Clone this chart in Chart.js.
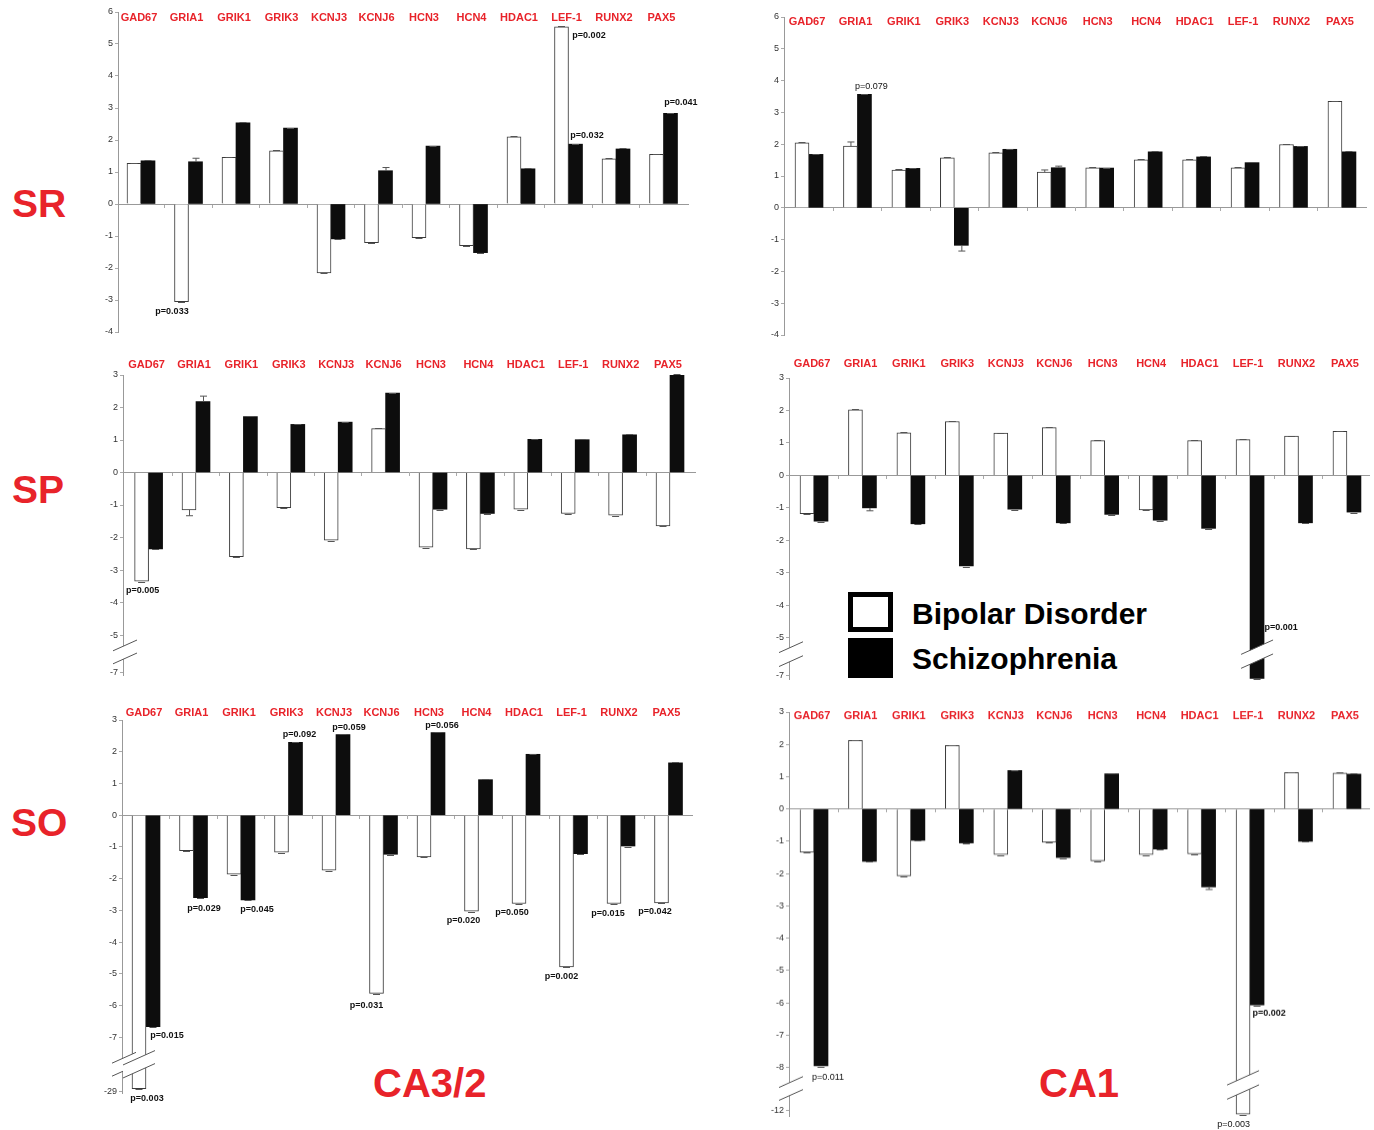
<!DOCTYPE html>
<html>
<head>
<meta charset="utf-8">
<script src="https://cdn.jsdelivr.net/npm/chart.js@4.4.1/dist/chart.umd.min.js"></script>
<style>
body{margin:0;background:#fff;width:1374px;height:1130px;position:relative;overflow:hidden;font-family:"Liberation Sans",Arial,sans-serif}
canvas{position:absolute}
.big{position:absolute;color:#e8232a;font-weight:bold;font-size:39px;line-height:1;white-space:nowrap}
.box{position:absolute;left:848px;width:45px;height:40px;box-sizing:border-box;border:5px solid #000}
.leg{position:absolute;left:912px;font-weight:bold;font-size:30px;line-height:1;color:#000;white-space:nowrap}
</style>
</head>
<body>
<div class="big" style="left:12px;top:184px">SR</div>
<div class="big" style="left:12px;top:470px">SP</div>
<div class="big" style="left:11px;top:803px">SO</div>
<div class="big" style="left:373px;top:1063px;font-size:40px">CA3/2</div>
<div class="big" style="left:1039px;top:1063px;font-size:40px">CA1</div>
<div class="box" style="top:592px;background:#fff"></div>
<div class="box" style="top:638px;background:#000"></div>
<div class="leg" style="top:599px">Bipolar Disorder</div>
<div class="leg" style="top:644px">Schizophrenia</div>
<script>
const genes = ['GAD67', 'GRIA1', 'GRIK1', 'GRIK3', 'KCNJ3', 'KCNJ6', 'HCN3', 'HCN4', 'HDAC1', 'LEF-1', 'RUNX2', 'PAX5'];

// SR
const srCA3Bip = [1.27, -3.05, 1.46, 1.66, -2.15, -1.21, -1.05, -1.30, 2.10, 5.54, 1.41, 1.55];
const srCA3Sch = [1.35, 1.32, 2.54, 2.37, -1.09, 1.04, 1.81, -1.52, 1.10, 1.87, 1.72, 2.83];
const srCA1Bip = [2.04, 1.94, 1.19, 1.57, 1.73, 1.12, 1.26, 1.51, 1.51, 1.26, 1.99, 3.35];
const srCA1Sch = [1.68, 3.57, 1.24, -1.18, 1.84, 1.26, 1.25, 1.76, 1.60, 1.42, 1.93, 1.76];
// SP
const spCA3Bip = [-3.34, -1.15, -2.59, -1.08, -2.08, 1.35, -2.30, -2.35, -1.13, -1.26, -1.31, -1.64];
const spCA3Sch = [-2.35, 2.18, 1.72, 1.48, 1.55, 2.44, -1.13, -1.26, 1.02, 1.01, 1.16, 3.03];
const spCA1Bip = [-1.18, 2.02, 1.31, 1.66, 1.30, 1.47, 1.07, -1.06, 1.07, 1.10, 1.21, 1.36];
const spCA1Sch = [-1.41, -1.00, -1.49, -2.79, -1.04, -1.46, -1.20, -1.38, -1.63, -7.2, -1.46, -1.13];
// SO
const soCA3Bip = [-27.5, -1.12, -1.86, -1.16, -1.73, -5.61, -1.31, -3.02, -2.78, -4.78, -2.78, -2.76];
const soCA3Sch = [-6.66, -2.60, -2.67, 2.30, 2.54, -1.23, 2.60, 1.12, 1.92, -1.21, -0.97, 1.65];
const soCA1Bip = [-1.34, 2.12, -2.07, 1.97, -1.41, -1.03, -1.60, -1.41, -1.39, -12.4, 1.13, 1.11];
const soCA1Sch = [-7.95, -1.62, -0.97, -1.05, 1.19, -1.50, 1.09, -1.24, -2.41, -6.06, -1.00, 1.08];

// tick labels
const ticksSR = [6, 5, 4, 3, 2, 1, 0, -1, -2, -3, -4];
const ticksSP = [3, 2, 1, 0, -1, -2, -3, -4, -5, -7];
const ticksSOCA3 = [3, 2, 1, 0, -1, -2, -3, -4, -5, -6, -7, -29];
const ticksSOCA1 = [3, 2, 1, 0, -1, -2, -3, -4, -5, -6, -7, -8, -12];

const RED = '#e8232a';
const FONT = '"Liberation Sans", Arial, sans-serif';

// [gene index, dataset (0 bipolar, 1 schizophrenia), error]
const errSR3 = [[1, 1, 0.11], [5, 1, 0.1]];
const errSR1 = [[1, 0, 0.13], [3, 1, -0.18], [5, 0, 0.07], [5, 1, 0.05]];
const errSP3 = [[1, 0, -0.18], [1, 1, 0.17]];
const errSP1 = [[1, 1, -0.09]];
const errSO1 = [[8, 1, -0.08]];

const panels = [
	{ bip: srCA3Bip, sch: srCA3Sch, ticks: ticksSR, err: errSR3, ymax: 6, ymin: -4, axisX: 118, topY: 12, bottomY: 332, first: 141, step: 47.5, right: 688, labelDy: 6,
		notes: [[1, 0, 'p=0.033', -9.5, 9.5, true], [9, 0, 'p=0.002', 27.5, 8.3, true], [9, 1, 'p=0.032', 11.5, -8.5, true], [11, 1, 'p=0.041', 10.3, -10.7, true]], breaks: [] },
	{ bip: srCA1Bip, sch: srCA1Sch, ticks: ticksSR, err: errSR1, ymax: 6, ymin: -4, axisX: 784, topY: 16.5, bottomY: 334.5, first: 809, step: 48.45, right: 1366, labelDy: 5,
		notes: [[1, 1, 'p=0.079', 7, -7.5, false]], breaks: [] },
	{ bip: spCA3Bip, sch: spCA3Sch, ticks: ticksSP, err: errSP3, ymax: 3, ymin: -6.23, axisX: 123, topY: 375, bottomY: 675, first: 148.6, step: 47.4, right: 695, labelDy: -10,
		brk: { at: -5.3, label: -7, disp: -6.16 },
		notes: [[0, 0, 'p=0.005', 1, 9.7, true]], breaks: [{ d: [-5.32, -5.72] }] },
	{ bip: spCA1Bip, sch: spCA1Sch, ticks: ticksSP, err: errSP1, ymax: 3, ymin: -6.27, axisX: 789, topY: 377.5, bottomY: 678.8, first: 814, step: 48.45, right: 1369, labelDy: -14,
		brk: { at: -5.25, label: -7, disp: -6.15 },
		notes: [[9, 1, 'p=0.001', 24, -51, true]], breaks: [{ d: [-5.29, -5.72] }, { bar: [9, 1], d: [-5.29, -5.72] }] },
	{ bip: soCA3Bip, sch: soCA3Sch, ticks: ticksSOCA3, err: [], ymax: 3, ymin: -8.75, axisX: 122, topY: 719.6, bottomY: 1093.3, first: 146, step: 47.5, right: 692, labelDy: -7,
		brk: { at: -7.35, label: -29, disp: -8.71 },
		notes: [[3, 1, 'p=0.092', 4, -7.6, true], [4, 1, 'p=0.059', 6, -7.5, true], [6, 1, 'p=0.056', 4, -7.3, true],
			[1, 1, 'p=0.029', 3.5, 10.6, true], [2, 1, 'p=0.045', 9, 10, true], [5, 0, 'p=0.031', -10, 12, true],
			[7, 0, 'p=0.020', -8, 9, true], [8, 0, 'p=0.050', -7, 9, true], [9, 0, 'p=0.002', -5, 10, true],
			[10, 0, 'p=0.015', -6, 10, true], [11, 0, 'p=0.042', -6.5, 9, true], [0, 1, 'p=0.015', 14, 9, true],
			[0, 0, 'p=0.003', 8, 10, true]],
		breaks: [{ d: [-7.64, -8.05] }, { bar: [0, 0], d: [-7.64, -8.05] }] },
	{ bip: soCA1Bip, sch: soCA1Sch, ticks: ticksSOCA1, err: errSO1, ymax: 3, ymin: -9.5, axisX: 789, topY: 712.4, bottomY: 1116.2, first: 814, step: 48.45, right: 1369, labelDy: 4,
		brk: { at: -8.3, label: -12, disp: -9.33 },
		notes: [[0, 1, 'p=0.011', 7, 11, false], [9, 1, 'p=0.002', 12, 8, true], [9, 0, 'p=0.003', -9.5, 10, false]],
		breaks: [{ d: [-8.45, -8.85] }, { bar: [9, 0], d: [-8.32, -8.76] }] },
];

const extras = {
	id: 'extras',
	afterDatasetsDraw(chart, args, o) {
		const { ctx, chartArea } = chart;
		const xs = chart.scales.x;
		const ys = chart.scales.y;
		ctx.save();
		ctx.lineWidth = 1;
		// caps and error whiskers
		[0, 1].forEach((di) => {
			chart.getDatasetMeta(di).data.forEach((bar, i) => {
				const up = bar.y < bar.base;
				const e = o.err.find((r) => r[0] === i && r[1] === di);
				ctx.strokeStyle = '#555';
				ctx.beginPath();
				if (e) {
					const end = ys.getPixelForValue(o.disp(o.raw[di][i] + e[2]));
					ctx.moveTo(bar.x + 0.5, bar.y);
					ctx.lineTo(bar.x + 0.5, end);
					ctx.moveTo(bar.x - 3, end);
					ctx.lineTo(bar.x + 4, end);
				} else {
					const y = Math.round(bar.y + (up ? -0.5 : 0.5)) + 0.5;
					ctx.moveTo(bar.x - 3.5, y);
					ctx.lineTo(bar.x + 3.5, y);
				}
				ctx.stroke();
			});
		});
		// axis / bar breaks
		o.breaks.forEach((b) => {
			let cx, half;
			if (b.bar) {
				const el = chart.getDatasetMeta(b.bar[1]).data[b.bar[0]];
				cx = el.x;
				half = el.width / 2 + 9;
			} else {
				cx = chartArea.left + 2;
				half = 12;
			}
			const ya = ys.getPixelForValue(b.d[0]);
			const yb = ys.getPixelForValue(b.d[1]);
			const s = 0.45 * half;
			ctx.fillStyle = '#fff';
			ctx.beginPath();
			ctx.moveTo(cx - half, ya + s);
			ctx.lineTo(cx + half, ya - s);
			ctx.lineTo(cx + half, yb - s);
			ctx.lineTo(cx - half, yb + s);
			ctx.closePath();
			ctx.fill();
			ctx.strokeStyle = '#555';
			ctx.beginPath();
			ctx.moveTo(cx - half, ya + s);
			ctx.lineTo(cx + half, ya - s);
			ctx.moveTo(cx - half, yb + s);
			ctx.lineTo(cx + half, yb - s);
			ctx.stroke();
		});
		// p-values
		ctx.textAlign = 'center';
		ctx.textBaseline = 'middle';
		ctx.fillStyle = '#111';
		o.notes.forEach(([i, di, text, dx, dy, bold]) => {
			const el = chart.getDatasetMeta(di).data[i];
			ctx.font = (bold ? 'bold ' : '') + '9px ' + FONT;
			ctx.fillText(text, el.x + dx, el.y + dy);
		});
		// gene names
		ctx.font = 'bold 11px ' + FONT;
		ctx.fillStyle = RED;
		genes.forEach((g, i) => {
			ctx.fillText(g, xs.getPixelForValue(i) - 2, chartArea.top + o.labelDy);
		});
		ctx.restore();
	},
};

panels.forEach((p) => {
	const brk = p.brk;
	const disp = (v) => (!brk || v >= brk.at) ? v : brk.at + (v - brk.at) * (brk.disp - brk.at) / (brk.label - brk.at);
	const cw = p.right - p.axisX;
	const w = 30 + cw + 30;
	const h = p.bottomY - p.topY + 52;
	const canvas = document.createElement('canvas');
	canvas.width = w;
	canvas.height = h;
	canvas.style.left = (p.axisX - 30) + 'px';
	canvas.style.top = (p.topY - 26) + 'px';
	canvas.style.width = w + 'px';
	canvas.style.height = h + 'px';
	document.body.appendChild(canvas);
	const xMin = -(p.first - p.axisX) / p.step;
	const xMax = 11 + (p.right - p.first - 11 * p.step) / p.step;

	new Chart(canvas, {
		type: 'bar',
		data: {
			datasets: [
				{
					label: 'Bipolar Disorder',
					data: p.bip.map((v, i) => ({ x: i, y: disp(v) })),
					backgroundColor: '#fff',
					borderColor: '#3a3a3a',
					borderWidth: 1,
					barThickness: 14,
				},
				{
					label: 'Schizophrenia',
					data: p.sch.map((v, i) => ({ x: i, y: disp(v) })),
					backgroundColor: '#0d0d0d',
					borderColor: '#0d0d0d',
					borderWidth: 0,
					barThickness: 14,
				},
			],
		},
		options: {
			responsive: false,
			animation: false,
			events: [],
			layout: { padding: { top: 26, bottom: 26, left: 0, right: 30 } },
			plugins: {
				legend: { display: false },
				tooltip: { enabled: false },
				extras: { disp, raw: [p.bip, p.sch], err: p.err, notes: p.notes, breaks: p.breaks, labelDy: p.labelDy },
			},
			scales: {
				x: {
					type: 'linear',
					position: { y: 0 },
					min: xMin,
					max: xMax,
					offset: false,
					afterBuildTicks: (s) => {
						s.ticks = genes.slice(0, 11).map((g, i) => ({ value: i + 0.5 }));
					},
					ticks: { display: false },
					grid: { drawOnChartArea: false, drawTicks: true, tickLength: 3, color: '#aaa', offset: false },
					border: { color: '#999' },
				},
				y: {
					type: 'linear',
					min: p.ymin,
					max: p.ymax,
					afterBuildTicks: (s) => {
						s.ticks = p.ticks.map((t) => ({ value: disp(t) }));
					},
					afterFit: (s) => {
						s.width = 30;
					},
					ticks: {
						autoSkip: false,
						font: { size: 9, family: FONT },
						color: '#333',
						padding: 2,
						callback: (v, i) => String(p.ticks[i]),
					},
					grid: { drawOnChartArea: false, tickLength: 3, color: '#aaa' },
					border: { color: '#999' },
				},
			},
		},
		plugins: [extras],
	});
});
</script>
</body>
</html>
